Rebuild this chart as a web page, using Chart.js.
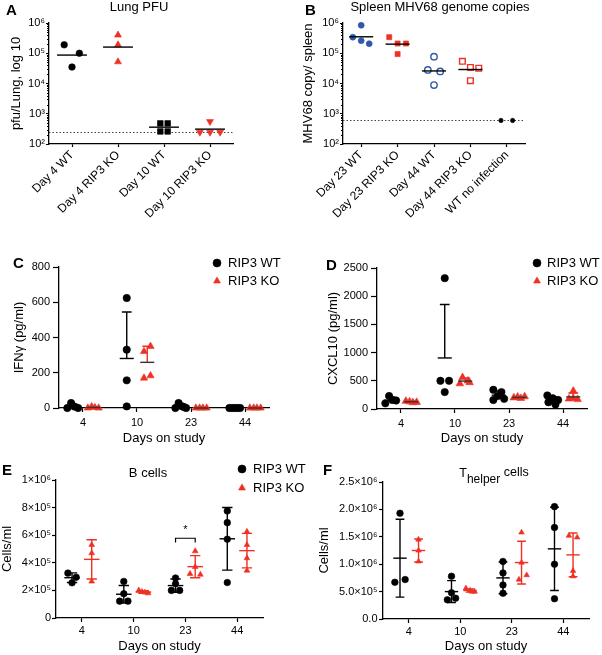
<!DOCTYPE html>
<html>
<head>
<meta charset="utf-8">
<title>RIP3 / MHV68 panels</title>
<script src="https://cdn.jsdelivr.net/npm/chart.js@4.4.1/dist/chart.umd.min.js"></script>
<style>
  html, body { margin: 0; padding: 0; background: #fff; }
  #fig { position: relative; width: 602px; height: 655px; overflow: hidden; }
  #fig canvas { position: absolute; }
</style>
</head>
<body>
<div id="fig">
  <canvas id="panelA" width="300" height="235" style="left:0;top:0"></canvas>
  <canvas id="panelB" width="302" height="235" style="left:300px;top:0"></canvas>
  <canvas id="panelC" width="300" height="212" style="left:0;top:235px"></canvas>
  <canvas id="panelD" width="302" height="212" style="left:300px;top:235px"></canvas>
  <canvas id="panelF" width="302" height="208" style="left:300px;top:447px"></canvas>
  <canvas id="panelE" width="320" height="208" style="left:0;top:447px"></canvas>
</div>
<script>
const RED = '#ee3124';
const BLUE = '#2f59a8';
const INK = '#000';
const FONT = 'Arial, "Liberation Sans", Helvetica, sans-serif';

// A - lung PFU
const lungGroups = ['Day 4 WT', 'Day 4 RIP3 KO', 'Day 10 WT', 'Day 10 RIP3 KO'];
const lungDay4WT = [1.9e5, 3.5e4, 1.0e5];
const lungDay4KO = [4.0e5, 1.9e5, 5.2e4];
const lungDay10WT = [480, 480, 260, 260];
const lungDay10KO = [550, 245, 245, 245];
const lungMeans = [8.7e4, 1.6e5, 360, 310];
const lungLimit = 250;
// sideways spread of overlapping dots (fraction of a category)
const lungJitter = [[-0.17, 0, 0.16], [0, 0, 0], [-0.08, 0.08, -0.08, 0.08], [0, -0.22, 0, 0.22]];

// B - spleen genome copies
const spleenGroups = ['Day 23 WT', 'Day 23 RIP3 KO', 'Day 44 WT', 'Day 44 RIP3 KO', 'WT no infection'];
const spleenDay23WT = [3.4e5, 8.4e5, 2.6e5, 2.07e5];
const spleenDay23KO = [3.4e5, 2.1e5, 2.1e5, 9.4e4];
const spleenDay44WT = [7.7e4, 2.8e4, 2.5e4, 8.9e3];
const spleenDay44KO = [5.4e4, 3.4e4, 3.2e4, 1.24e4];
const spleenNoInf = [600, 600];
const spleenMeans = [3.5e5, 2.0e5, 2.6e4, 2.9e4];
const spleenLimit = 600;
const spleenJitter = [[-0.23, 0, 0, 0.22], [-0.23, 0, 0.23, 0], [0, -0.17, 0.17, 0], [-0.22, 0, 0.23, 0], [-0.16, 0.16]];

const logTicks = [1e2, 1e3, 1e4, 1e5, 1e6];
const logTickLabels = ['10²', '10³', '10⁴', '10⁵', '10⁶'];

// C-F share the time points
const days = ['4', '10', '23', '44'];

// C - IFN gamma (pg/ml), one list per day
const ifnWT = [[0, 28, 8, 0], [624, 331, 157, 9], [0, 28, 10, 5, 0], [0, 0, 0, 0, 0]];
const ifnKO = [[0, 8, 3, 0], [321, 350, 170, 183], [0, 0, 0, 0], [0, 0, 0, 0]];
const ifnWTMean = [8, 281, 9, 0];
const ifnWTSd = [13, 264, 12, 0];
const ifnKOMean = [3, 259, 0, 0];
const ifnKOSd = [4, 91, 0, 0];
const ifnWTJitter = [[-0.1, -0.03, 0.03, 0.1], [0, 0, 0, 0], [-0.1, -0.04, 0.02, 0.06, 0.1], [-0.1, -0.05, 0, 0.05, 0.1]];
const ifnKOJitter = [[-0.1, -0.03, 0.03, 0.1], [-0.06, 0.06, -0.06, 0.06], [-0.1, -0.03, 0.03, 0.1], [-0.1, -0.03, 0.03, 0.1]];
const ifnTicks = [0, 200, 400, 600, 800];

// D - CXCL10 (pg/ml)
const cxclWT = [[100, 230, 160, 150], [2320, 500, 500, 300], [340, 300, 230, 160, 180], [240, 190, 160, 120, 80]];
const cxclKO = [[140, 130, 115, 120], [560, 450, 470, 500], [200, 215, 190, 220], [320, 180, 170, 190]];
const cxclWTMean = [155, 905, 245, 155];
const cxclWTSd = [55, 948, 75, 60];
const cxclKOMean = [128, 495, 205, 215];
const cxclKOSd = [15, 55, 15, 70];
const cxclWTJitter = [[-0.1, -0.03, 0.03, 0.1], [0, -0.08, 0.08, 0], [-0.1, 0.05, -0.02, -0.1, 0.1], [-0.1, 0, 0.1, -0.08, 0.05]];
const cxclKOJitter = [[-0.1, -0.03, 0.03, 0.1], [-0.05, -0.1, 0.08, 0.05], [-0.1, -0.03, 0.03, 0.1], [0, -0.08, 0.08, 0]];
const cxclTicks = [0, 500, 1000, 1500, 2000, 2500];

// E - B cells (cells/ml)
const bWT = [[325e3, 295e3, 255e3], [265e3, 176e3, 122e3, 122e3], [290e3, 248e3, 200e3, 200e3], [776e3, 691e3, 571e3, 257e3]];
const bKO = [[530e3, 470e3, 265e3], [200e3, 190e3, 185e3, 180e3], [485e3, 370e3, 320e3, 315e3], [626e3, 530e3, 434e3, 344e3]];
const bWTMean = [292e3, 172e3, 235e3, 574e3];
const bWTSd = [35e3, 64e3, 48e3, 227e3];
const bKOMean = [425e3, 188e3, 372e3, 488e3];
const bKOSd = [142e3, 9e3, 80e3, 125e3];
const bWTJitter = [[-0.08, 0.08, 0], [0, 0, -0.08, 0.08], [0, 0, -0.08, 0.08], [0, 0, 0, 0]];
const bKOJitter = [[0, 0, 0], [-0.09, -0.03, 0.03, 0.09], [0, 0, -0.1, 0.1], [0, 0, 0, 0]];
const bCellTicks = [0, 2e5, 4e5, 6e5, 8e5, 1e6];
const bCellTickLabels = ['0', '2×10⁵', '4×10⁵', '6×10⁵', '8×10⁵', '1×10⁶'];
const bSigDay = 2;
const bSigLevel = 578e3;

// F - T helper cells (cells/ml)
const thWT = [[1.93e6, 0.72e6, 0.67e6], [0.78e6, 0.48e6, 0.38e6, 0.35e6], [1.05e6, 0.84e6, 0.62e6, 0.47e6], [2.05e6, 1.67e6, 1.0e6, 0.37e6]];
const thKO = [[1.45e6, 1.25e6, 1.05e6], [0.56e6, 0.52e6, 0.5e6, 0.5e6], [1.58e6, 1.03e6, 0.8e6, 0.72e6], [1.52e6, 1.49e6, 0.88e6, 0.78e6]];
const thWTMean = [1.11e6, 0.5e6, 0.75e6, 1.28e6];
const thWTSd = [0.71e6, 0.2e6, 0.29e6, 0.76e6];
const thKOMean = [1.25e6, 0.52e6, 1.03e6, 1.17e6];
const thKOSd = [0.21e6, 0.03e6, 0.39e6, 0.4e6];
const thWTJitter = [[0, 0.1, -0.1], [0, 0, 0.08, -0.08], [0, 0, 0, 0], [0, 0, 0, 0]];
const thKOJitter = [[0, 0, 0], [-0.08, 0, 0.04, 0.09], [0, 0, 0.1, -0.05], [-0.08, 0.08, 0, 0]];
const thTicks = [0, 5e5, 1e6, 1.5e6, 2e6, 2.5e6];
const thTickLabels = ['0.0', '5.0×10⁵', '1.0×10⁶', '1.5×10⁶', '2.0×10⁶', '2.5×10⁶'];

Chart.defaults.font.family = FONT;
Chart.defaults.color = INK;

function marker(color, shape, r, opts = {}) {
  return {
    pointStyle: shape,
    pointRadius: r,
    pointHoverRadius: r,
    pointRotation: opts.rotation || 0,
    pointBackgroundColor: opts.open ? 'rgba(255,255,255,0)' : color,
    pointBorderColor: color,
    pointBorderWidth: opts.open ? 1.4 : 0.6,
    backgroundColor: color,
    borderColor: color,
    clip: false
  };
}

function dots(label, groups, jitter, base, style, legend) {
  const data = [];
  groups.forEach((vals, g) => vals.forEach((v, j) => {
    data.push({ x: base + g + (jitter[g][j] || 0), y: v });
  }));
  return Object.assign({ label, data, showLine: false, inLegend: !!legend }, style);
}

function xAxis(s) {
  return {
    type: 'linear', min: s.min, max: s.max,
    afterBuildTicks: sc => { sc.ticks = s.labels.map((_, i) => ({ value: i })); },
    afterFit: sc => { sc.height = s.height; },
    ticks: {
      autoSkip: false, minRotation: s.rot, maxRotation: s.rot, padding: s.pad,
      font: { size: s.font }, callback: v => s.labels[Math.round(v)]
    },
    grid: { drawOnChartArea: false, tickLength: s.tl, tickColor: INK, tickWidth: 1.2 },
    border: { color: INK, width: 1.3 },
    title: { display: !!s.title, text: s.title || '', font: { size: 13 }, padding: { top: 0, bottom: s.titlePad || 0 } }
  };
}

function yAxis(s) {
  return {
    type: s.type || 'linear', min: s.min, max: s.max,
    afterBuildTicks: sc => { sc.ticks = s.ticks.map(v => ({ value: v })); },
    afterFit: sc => { sc.width = s.width; },
    ticks: { padding: s.pad, font: { size: 11 }, callback: (v, i) => s.labels[i] },
    grid: { drawOnChartArea: false, tickLength: s.tl, tickColor: INK, tickWidth: 1.2 },
    border: { color: INK, width: 1.3 },
    title: { display: true, text: s.title, font: { size: 13 }, padding: { top: s.titlePad, bottom: 0 } }
  };
}

function decor(spec) {
  return {
    id: 'decor',
    beforeDatasetsDraw(chart) {
      if (spec.limit == null) return;
      const { ctx, chartArea: a, scales: { y } } = chart;
      const py = Math.round(y.getPixelForValue(spec.limit)) + 0.5;
      ctx.save();
      ctx.strokeStyle = '#444';
      ctx.lineWidth = 1;
      ctx.setLineDash([1.5, 2]);
      ctx.beginPath();
      ctx.moveTo(a.left, py);
      ctx.lineTo(a.right, py);
      ctx.stroke();
      ctx.restore();
    },
    afterDatasetsDraw(chart) {
      const { ctx, scales: { x, y } } = chart;
      ctx.save();
      (spec.summaries || []).forEach(r => {
        r.means.forEach((m, g) => {
          const cx = g + r.offset;
          const px = x.getPixelForValue(cx);
          const half = w => (x.getPixelForValue(cx + w / 2) - x.getPixelForValue(cx - w / 2)) / 2;
          const py = y.getPixelForValue(m);
          ctx.lineWidth = 1.4;
          if (r.sd) {
            const hi = y.getPixelForValue(m + r.sd[g]);
            const lo = r.both ? y.getPixelForValue(Math.max(m - r.sd[g], 0)) : py;
            const c = half(r.capW);
            ctx.strokeStyle = r.barColor;
            ctx.beginPath();
            ctx.moveTo(px, hi); ctx.lineTo(px, lo);
            ctx.moveTo(px - c, hi); ctx.lineTo(px + c, hi);
            if (r.both) { ctx.moveTo(px - c, lo); ctx.lineTo(px + c, lo); }
            ctx.stroke();
          }
          const h = half(r.meanW);
          ctx.strokeStyle = r.meanColor;
          ctx.beginPath();
          ctx.moveTo(px - h, py); ctx.lineTo(px + h, py);
          ctx.stroke();
        });
      });
      if (spec.bracket) {
        const br = spec.bracket;
        const x1 = x.getPixelForValue(br.day + br.left);
        const x2 = x.getPixelForValue(br.day + br.right);
        const yt = y.getPixelForValue(br.level);
        const yb = y.getPixelForValue(br.level - br.drop);
        ctx.strokeStyle = INK;
        ctx.lineWidth = 1.2;
        ctx.beginPath();
        ctx.moveTo(x1, yb); ctx.lineTo(x1, yt); ctx.lineTo(x2, yt); ctx.lineTo(x2, yb);
        ctx.stroke();
        ctx.fillStyle = INK;
        ctx.font = '11px ' + FONT;
        ctx.textAlign = 'center';
        ctx.textBaseline = 'middle';
        ctx.fillText(br.mark, (x1 + x2) / 2, y.getPixelForValue(br.markLevel));
      }
      ctx.restore();
    },
    afterDraw(chart) {
      const { ctx, chartArea: a, scales: { y } } = chart;
      ctx.save();
      if (spec.minorLog) {
        ctx.strokeStyle = INK;
        ctx.lineWidth = 1;
        ctx.beginPath();
        logTicks.slice(0, -1).forEach(dec => {
          for (let m = 2; m <= 9; m++) {
            const py = Math.round(y.getPixelForValue(m * dec)) + 0.5;
            ctx.moveTo(a.left - 2, py); ctx.lineTo(a.left, py);
          }
        });
        ctx.stroke();
      }
      ctx.fillStyle = INK;
      ctx.textBaseline = 'alphabetic';
      if (spec.letter) {
        ctx.font = 'bold 15px ' + FONT;
        ctx.textAlign = 'left';
        ctx.fillText(spec.letter[0], spec.letter[1], spec.letter[2]);
      }
      if (spec.title) {
        const t = spec.title;
        ctx.textAlign = 'left';
        let total = 0;
        t.parts.forEach(p => { ctx.font = p[1] + 'px ' + FONT; total += ctx.measureText(p[0]).width; });
        let cx = t.x - total / 2;
        t.parts.forEach(p => {
          ctx.font = p[1] + 'px ' + FONT;
          ctx.fillText(p[0], cx, t.y + p[2]);
          cx += ctx.measureText(p[0]).width;
        });
      }
      if (spec.legend) {
        const lg = spec.legend;
        chart.data.datasets.filter(d => d.inLegend).forEach((d, i) => {
          const ly = lg.y + i * lg.gap;
          ctx.fillStyle = d.pointBackgroundColor;
          ctx.strokeStyle = d.pointBorderColor;
          ctx.lineWidth = 0.6;
          Chart.helpers.drawPoint(ctx, { pointStyle: d.pointStyle, radius: lg.r, rotation: 0, borderWidth: 0.6 }, lg.x, ly);
          ctx.fillStyle = INK;
          ctx.font = '13px ' + FONT;
          ctx.textAlign = 'left';
          ctx.textBaseline = 'middle';
          ctx.fillText(d.label, lg.textX, ly);
        });
      }
      ctx.restore();
    }
  };
}

function build(spec) {
  const [l, t, r, b] = spec.area;
  spec.x.height = spec.h - b;
  spec.y.width = l;
  return new Chart(document.getElementById(spec.canvas), {
    type: 'scatter',
    data: { datasets: spec.datasets },
    options: {
      responsive: false,
      animation: false,
      events: [],
      devicePixelRatio: 1,
      layout: { padding: { left: 0, top: t, right: spec.w - r, bottom: 0 } },
      scales: { x: xAxis(spec.x), y: yAxis(spec.y) },
      plugins: { legend: { display: false }, tooltip: { enabled: false } }
    },
    plugins: [decor(spec)]
  });
}

build({
  canvas: 'panelA', w: 300, h: 235, area: [49, 23, 233, 144],
  x: { labels: lungGroups, min: -0.5, max: 3.5, rot: 45, pad: 1, font: 12, tl: 3 },
  y: { type: 'logarithmic', min: 100, max: 1e6, ticks: logTicks, labels: logTickLabels, tl: 3, pad: 1,
       title: 'pfu/Lung, log 10', titlePad: 9 },
  datasets: [
    dots('Day 4 WT', [lungDay4WT], [lungJitter[0]], 0, marker(INK, 'circle', 3.3)),
    dots('Day 4 RIP3 KO', [lungDay4KO], [lungJitter[1]], 1, marker(RED, 'triangle', 4)),
    dots('Day 10 WT', [lungDay10WT], [lungJitter[2]], 2, marker(INK, 'rect', 4)),
    dots('Day 10 RIP3 KO', [lungDay10KO], [lungJitter[3]], 3, marker(RED, 'triangle', 4, { rotation: 180 }))
  ],
  summaries: [{ offset: 0, means: lungMeans, meanW: 0.65, meanColor: INK }],
  limit: lungLimit, minorLog: true,
  letter: ['A', 6, 15],
  title: { parts: [['Lung PFU', 13, 0]], x: 139, y: 11 }
});

build({
  canvas: 'panelB', w: 302, h: 235, area: [43, 23, 225, 144],
  x: { labels: spleenGroups, min: -0.5, max: 4.5, rot: 45, pad: 1, font: 12, tl: 3 },
  y: { type: 'logarithmic', min: 100, max: 1e6, ticks: logTicks, labels: logTickLabels, tl: 3, pad: 1,
       title: 'MHV68 copy/ spleen', titlePad: 1 },
  datasets: [
    dots('Day 23 WT', [spleenDay23WT], [spleenJitter[0]], 0, marker(BLUE, 'circle', 3)),
    dots('Day 23 RIP3 KO', [spleenDay23KO], [spleenJitter[1]], 1, marker(RED, 'rect', 3.6)),
    dots('Day 44 WT', [spleenDay44WT], [spleenJitter[2]], 2, marker(BLUE, 'circle', 3.2, { open: true })),
    dots('Day 44 RIP3 KO', [spleenDay44KO], [spleenJitter[3]], 3, marker(RED, 'rect', 4, { open: true })),
    dots('WT no infection', [spleenNoInf], [spleenJitter[4]], 4, marker(INK, 'circle', 2.2))
  ],
  summaries: [{ offset: 0, means: spleenMeans, meanW: 0.66, meanColor: INK }],
  limit: spleenLimit, minorLog: true,
  letter: ['B', 5, 15],
  title: { parts: [['Spleen MHV68 genome copies', 13, 0]], x: 140, y: 11 }
});

build({
  canvas: 'panelC', w: 300, h: 212, area: [59, 32, 269, 173],
  x: { labels: days, min: -0.444, max: 3.444, rot: 0, pad: 4.5, font: 11, tl: 4, title: 'Days on study', titlePad: 1 },
  y: { min: 0, max: 800, ticks: ifnTicks, labels: ifnTicks.map(String), tl: 6, pad: 3,
       title: 'IFNγ (pg/ml)', titlePad: 12 },
  datasets: [
    dots('RIP3 WT', ifnWT, ifnWTJitter, -0.19, marker(INK, 'circle', 3.7), true),
    dots('RIP3 KO', ifnKO, ifnKOJitter, 0.19, marker(RED, 'triangle', 4.2), true)
  ],
  summaries: [
    { offset: -0.19, means: ifnWTMean, sd: ifnWTSd, meanW: 0.26, capW: 0.18, meanColor: INK, barColor: INK },
    { offset: 0.19, means: ifnKOMean, sd: ifnKOSd, meanW: 0.26, capW: 0.18, meanColor: '#333', barColor: RED }
  ],
  letter: ['C', 13, 33],
  legend: { x: 217, y: 28, gap: 18, r: 4, textX: 228 }
});

build({
  canvas: 'panelD', w: 302, h: 212, area: [77, 33, 287, 174],
  x: { labels: days, min: -0.444, max: 3.444, rot: 0, pad: 4.5, font: 11, tl: 4, title: 'Days on study', titlePad: 1 },
  y: { min: 0, max: 2500, ticks: cxclTicks, labels: cxclTicks.map(String), tl: 6, pad: 3,
       title: 'CXCL10 (pg/ml)', titlePad: 26 },
  datasets: [
    dots('RIP3 WT', cxclWT, cxclWTJitter, -0.19, marker(INK, 'circle', 3.7), true),
    dots('RIP3 KO', cxclKO, cxclKOJitter, 0.19, marker(RED, 'triangle', 4.4), true)
  ],
  summaries: [
    { offset: -0.19, means: cxclWTMean, sd: cxclWTSd, meanW: 0.26, capW: 0.18, meanColor: INK, barColor: INK },
    { offset: 0.19, means: cxclKOMean, sd: cxclKOSd, meanW: 0.26, capW: 0.18, meanColor: '#333', barColor: RED }
  ],
  letter: ['D', 26, 35],
  legend: { x: 237, y: 28, gap: 18, r: 4, textX: 247 }
});

build({
  canvas: 'panelE', w: 320, h: 208, area: [56, 33, 263, 171],
  x: { labels: days, min: -0.5, max: 3.5, rot: 0, pad: 2, font: 11, tl: 4, title: 'Days on study', titlePad: 1 },
  y: { min: 0, max: 1e6, ticks: bCellTicks, labels: bCellTickLabels, tl: 4, pad: 1, title: 'Cells/ml', titlePad: 0 },
  datasets: [
    dots('RIP3 WT', bWT, bWTJitter, -0.19, marker(INK, 'circle', 3.3), true),
    dots('RIP3 KO', bKO, bKOJitter, 0.19, marker(RED, 'triangle', 3.3), true)
  ],
  summaries: [
    { offset: -0.19, means: bWTMean, sd: bWTSd, both: true, meanW: 0.3, capW: 0.2, meanColor: INK, barColor: INK },
    { offset: 0.19, means: bKOMean, sd: bKOSd, both: true, meanW: 0.3, capW: 0.2, meanColor: RED, barColor: RED }
  ],
  bracket: { day: bSigDay, left: -0.19, right: 0.19, level: bSigLevel, drop: 30e3, mark: '*', markLevel: 635e3 },
  letter: ['E', 2, 28],
  title: { parts: [['B cells', 13, 0]], x: 148, y: 30 },
  legend: { x: 242, y: 22, gap: 19, r: 4, textX: 253 }
});

build({
  canvas: 'panelF', w: 302, h: 208, area: [83, 35, 289, 172],
  x: { labels: days, min: -0.5, max: 3.5, rot: 0, pad: 2, font: 11, tl: 4, title: 'Days on study', titlePad: 1 },
  y: { min: 0, max: 2.5e6, ticks: thTicks, labels: thTickLabels, tl: 4, pad: 1.5, title: 'Cells/ml', titlePad: 17 },
  datasets: [
    dots('RIP3 WT', thWT, thWTJitter, -0.17, marker(INK, 'circle', 3.3)),
    dots('RIP3 KO', thKO, thKOJitter, 0.19, marker(RED, 'triangle', 3.2))
  ],
  summaries: [
    { offset: -0.17, means: thWTMean, sd: thWTSd, both: true, meanW: 0.26, capW: 0.17, meanColor: INK, barColor: INK },
    { offset: 0.19, means: thKOMean, sd: thKOSd, both: true, meanW: 0.26, capW: 0.17, meanColor: RED, barColor: RED }
  ],
  letter: ['F', 23, 28],
  title: { parts: [['T', 12.5, 0], ['helper', 12, 6], [' cells', 12.5, -1]], x: 194, y: 30 }
});
</script>
</body>
</html>
